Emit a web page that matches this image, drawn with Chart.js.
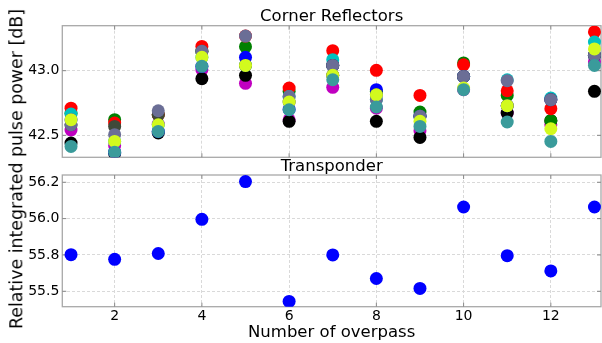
<!DOCTYPE html>
<html>
<head>
<meta charset="utf-8">
<script src="https://cdn.jsdelivr.net/npm/chart.js@4.4.1/dist/chart.umd.min.js"></script>
<style>
    body { margin: 0; background: #fff; }
    #wrap { position: relative; width: 602px; height: 343px; font-family: 'DejaVu Sans', sans-serif; }
    #topChart { position: absolute; left: 0; top: 0; }
    #bottomChart { position: absolute; left: 0; top: 152px; }
    #yTitle {
        position: absolute; left: 17px; top: 169px;
        transform: translate(-50%, -50%) rotate(-90deg);
        font-size: 17.4px; line-height: 1; white-space: nowrap; color: #000;
    }
</style>
</head>
<body>
<div id="wrap">
    <canvas id="topChart" width="602" height="160"></canvas>
    <canvas id="bottomChart" width="602" height="191"></canvas>
    <div id="yTitle">Relative integrated pulse power [dB]</div>
</div>
<script>
// Data
const overpass = [1, 2, 3, 4, 5, 6, 7, 8, 9, 10, 11, 12, 13];

// Corner reflectors (dB), one array per reflector
const magentaCR = [42.541, 42.42, 42.587, 43.008, 42.902, 42.62, 42.871, 42.71, 42.536, 42.853, 42.672, 42.582, 43.07];
const blackCR   = [42.44, 42.36, 42.518, 42.938, 42.964, 42.608, 42.964, 42.608, 42.484, 42.956, 42.672, 42.613, 42.84];
const greenCR   = [42.67, 42.621, 42.66, 43.15, 43.186, 42.84, 43.041, 42.84, 42.68, 43.06, 42.809, 42.613, 43.119];
const redCR     = [42.71, 42.595, 42.66, 43.188, 43.268, 42.866, 43.155, 43.003, 42.809, 43.046, 42.845, 42.706, 43.30];
const cyanCR    = [42.665, 42.453, 42.582, 43.103, 43.041, 42.80, 43.085, 42.776, 42.647, 42.956, 42.93, 42.788, 43.222];
const blueCR    = [42.621, 42.37, 42.53, 43.034, 43.103, 42.70, 43.041, 42.853, 42.647, 42.956, 42.729, 42.776, 43.119];
const oliveCR   = [42.582, 42.569, 42.66, 43.15, 43.041, 42.757, 43.041, 42.814, 42.647, 42.956, 42.729, 42.776, 43.119];
const greyCR    = [42.582, 42.505, 42.69, 43.15, 43.268, 42.80, 43.041, 42.776, 42.647, 42.956, 42.923, 42.776, 43.119];
const yellowCR  = [42.621, 42.453, 42.582, 43.103, 43.041, 42.757, 42.964, 42.814, 42.608, 42.866, 42.729, 42.551, 43.168];
const tealCR    = [42.414, 42.37, 42.53, 43.034, null, 42.698, 42.93, 42.719, 42.569, 42.853, 42.603, 42.453, 43.041];

// Transponder (dB)
const transponder = [55.752, 55.72, 55.76, 55.995, 56.255, 55.43, 55.75, 55.588, 55.52, 56.08, 55.745, 55.64, 56.08];

// Ticks
const xTicks = [2, 4, 6, 8, 10, 12];
const yTicksTop = [42.5, 43.0];
const yTickLabelsTop = ['42.5', '43.0'];
const yTicksBottom = [55.5, 55.75, 56.0, 56.25];
const yTickLabelsBottom = ['55.5', '55.8', '56.0', '56.2'];

// Series in drawing order (first = bottom)
const reflectorSeries = [
    { values: magentaCR, color: '#c000c0' },
    { values: blackCR, color: '#000000' },
    { values: greenCR, color: '#008000' },
    { values: redCR, color: '#ff0000' },
    { values: cyanCR, color: '#00c0c0' },
    { values: blueCR, color: '#0000ff' },
    { values: oliveCR, color: '#3f4939' },
    { values: greyCR, color: '#6b6e96' },
    { values: yellowCR, color: '#d2fa1e' },
    { values: tealCR, color: '#3a9b9b' }
];

const FONT = 'DejaVu Sans';
const gridColor = '#d9d9d9';

function toPoints(values) {
    return overpass.map((x, i) => ({ x: x, y: values[i] }));
}

// Box round the plot + small inward ticks (matplotlib style)
const framePlugin = {
    id: 'frame',
    beforeDatasetsDraw(chart) {
        const { ctx, chartArea: a, scales } = chart;
        ctx.save();
        ctx.strokeStyle = '#a8a8a8';
        ctx.lineWidth = 1.3;
        ctx.strokeRect(a.left, a.top, a.right - a.left, a.bottom - a.top);
        ctx.strokeStyle = '#888';
        ctx.lineWidth = 1;
        ctx.beginPath();
        scales.x.ticks.forEach(t => {
            const px = scales.x.getPixelForValue(t.value);
            ctx.moveTo(px, a.bottom); ctx.lineTo(px, a.bottom - 4);
            ctx.moveTo(px, a.top); ctx.lineTo(px, a.top + 4);
        });
        scales.y.ticks.forEach(t => {
            const py = scales.y.getPixelForValue(t.value);
            ctx.moveTo(a.left, py); ctx.lineTo(a.left + 4, py);
            ctx.moveTo(a.right, py); ctx.lineTo(a.right - 4, py);
        });
        ctx.stroke();
        ctx.restore();
    }
};

function xAxis(showLabels) {
    return {
        type: 'linear',
        min: 0.8,
        max: 13.15,
        afterBuildTicks: scale => { scale.ticks = xTicks.map(v => ({ value: v })); },
        afterFit: scale => {
            scale.height = showLabels ? 36.3 : 0;
            scale.paddingLeft = 0;
            scale.paddingRight = 0;
        },
        grid: { color: gridColor, drawTicks: false },
        border: { display: false, dash: [3, 2] },
        ticks: {
            display: showLabels,
            padding: 1,
            color: '#000',
            font: { family: FONT, size: 14 },
            callback: v => String(v)
        },
        title: {
            display: showLabels,
            text: 'Number of overpass',
            color: '#000',
            font: { family: FONT, size: 16.5, lineHeight: 1 },
            padding: { top: 0, bottom: 2 }
        }
    };
}

function yAxis(min, max, ticks, labels) {
    return {
        type: 'linear',
        min: min,
        max: max,
        afterBuildTicks: scale => { scale.ticks = ticks.map(v => ({ value: v })); },
        afterFit: scale => {
            scale.width = 62.3;
            scale.paddingTop = 0;
            scale.paddingBottom = 0;
        },
        grid: { color: gridColor, drawTicks: false },
        border: { display: false, dash: [3, 2] },
        ticks: {
            padding: 3,
            color: '#000',
            font: { family: FONT, size: 14 },
            callback: (v, i) => labels[i]
        }
    };
}

// Corner Reflectors chart
new Chart(document.getElementById('topChart'), {
    type: 'scatter',
    data: {
        datasets: reflectorSeries.map((s, i) => ({
            data: toPoints(s.values),
            backgroundColor: s.color,
            borderColor: s.color,
            pointRadius: 6.5,
            pointBorderWidth: 0,
            order: reflectorSeries.length - i
        }))
    },
    options: {
        responsive: false,
        animation: false,
        layout: { autoPadding: false, padding: { left: 0, right: 1, top: 0, bottom: 2.7 } },
        plugins: {
            legend: { display: false },
            tooltip: { enabled: false },
            title: {
                display: true,
                fullSize: false,
                text: 'Corner Reflectors',
                color: '#000',
                font: { family: FONT, size: 16.5, weight: 'normal', lineHeight: 1 },
                padding: { top: 8.7, bottom: 0.5 }
            }
        },
        scales: {
            x: xAxis(false),
            y: yAxis(42.33, 43.348, yTicksTop, yTickLabelsTop)
        }
    },
    plugins: [framePlugin]
});

// Transponder chart
new Chart(document.getElementById('bottomChart'), {
    type: 'scatter',
    data: {
        datasets: [{
            data: toPoints(transponder),
            backgroundColor: '#0000ff',
            borderColor: '#0000ff',
            pointRadius: 6.5,
            pointBorderWidth: 0
        }]
    },
    options: {
        responsive: false,
        animation: false,
        layout: { autoPadding: false, padding: { left: 0, right: 1, top: 0, bottom: 0 } },
        plugins: {
            legend: { display: false },
            tooltip: { enabled: false },
            title: {
                display: true,
                fullSize: false,
                text: 'Transponder',
                color: '#000',
                font: { family: FONT, size: 16.5, weight: 'normal', lineHeight: 1 },
                padding: { top: 6.5, bottom: 0 }
            }
        },
        scales: {
            x: xAxis(true),
            y: yAxis(55.394, 56.30, yTicksBottom, yTickLabelsBottom)
        }
    },
    plugins: [framePlugin]
});
</script>
</body>
</html>
